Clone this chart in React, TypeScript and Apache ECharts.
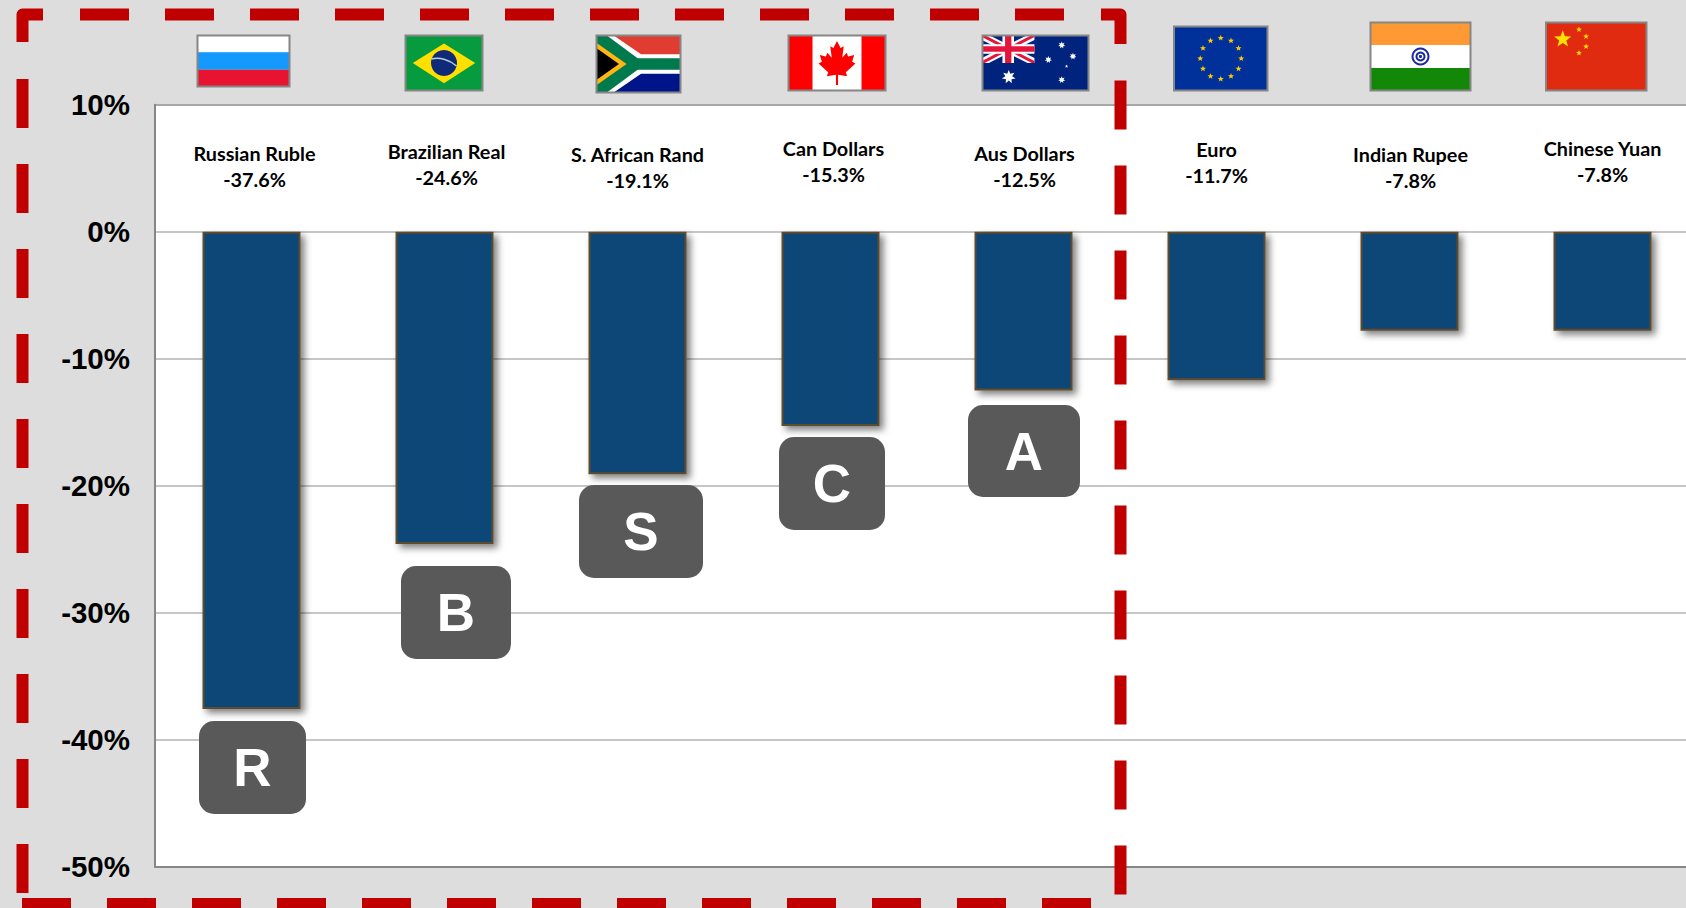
import React, { useEffect, useRef } from "react";
import * as echarts from "echarts";

// Currency moves against the US dollar, weakest first.
const currencies = [
  "Russian Ruble",
  "Brazilian Real",
  "S. African Rand",
  "Can Dollars",
  "Aus Dollars",
  "Euro",
  "Indian Rupee",
  "Chinese Yuan",
];
const changes = [-37.6, -24.6, -19.1, -15.3, -12.5, -11.7, -7.8, -7.8];
const axisTicks = [-50, -40, -30, -20, -10, 0, 10];

// Hand placement of the caption above each column: [x offset, name y, value y].
const captionOffsets = [
  [3, 153, 179],
  [2, 151, 177],
  [0, 154, 180],
  [3, 148, 174],
  [1, 153, 179],
  [0, 149, 175],
  [1, 154, 180],
  [0, 148, 174],
];

const badgeLetters = ["R", "B", "S", "C", "A"];
// Callout boxes under the five currencies: [x, y, width, height].
const badgeBoxes = [
  [199, 721, 107, 93],
  [401, 566, 110, 93],
  [579, 485, 124, 93],
  [779, 437, 106, 93],
  [968, 405, 112, 92],
];

const GRID = { left: 155, top: 104.8, width: 1544, height: 761.7 };
const LEVEL = 20;

type El = Record<string, unknown>;
type Box = { x: number; y: number; w: number; h: number };

const at = (b: Box, u: number, v: number) => [b.x + u * b.w, b.y + v * b.h];
const poly = (b: Box, pts: number[][], fill: string): El => ({
  type: "polygon",
  z: LEVEL,
  shape: { points: pts.map(([u, v]) => at(b, u, v)) },
  style: { fill },
});
const band = (b: Box, u0: number, v0: number, u1: number, v1: number, fill: string): El => ({
  type: "rect",
  z: LEVEL,
  shape: { x: b.x + u0 * b.w, y: b.y + v0 * b.h, width: (u1 - u0) * b.w, height: (v1 - v0) * b.h },
  style: { fill },
});
const star = (cx: number, cy: number, r: number, fill: string, n = 5): El => {
  const inner = n === 5 ? r * 0.42 : r * 0.5;
  const points: number[][] = [];
  for (let i = 0; i < n * 2; i++) {
    const a = -Math.PI / 2 + (i * Math.PI) / n;
    const rad = i % 2 === 0 ? r : inner;
    points.push([cx + rad * Math.cos(a), cy + rad * Math.sin(a)]);
  }
  return { type: "polygon", z: LEVEL, shape: { points }, style: { fill } };
};
const frame = (b: Box): El => ({
  type: "rect",
  z: LEVEL + 1,
  shape: { x: b.x + 0.5, y: b.y + 0.5, width: b.w - 1, height: b.h - 1 },
  style: { fill: "none", stroke: "#868686", lineWidth: 2 },
});

function russia(b: Box): El[] {
  return [
    band(b, 0, 0, 1, 1 / 3, "#FFFFFF"),
    band(b, 0, 1 / 3, 1, 2 / 3, "#1499FF"),
    band(b, 0, 2 / 3, 1, 1, "#E81330"),
  ];
}

function brazil(b: Box): El[] {
  const [cx, cy] = at(b, 0.5, 0.5);
  return [
    band(b, 0, 0, 1, 1, "#069B3E"),
    poly(b, [[0.1, 0.5], [0.5, 0.15], [0.9, 0.5], [0.5, 0.86]], "#FEDF00"),
    { type: "circle", z: LEVEL, shape: { cx, cy, r: 13 }, style: { fill: "#0E2A78" } },
    {
      type: "bezierCurve",
      z: LEVEL,
      shape: {
        x1: cx - 12.5, y1: cy - 4,
        cpx1: cx - 4, cpy1: cy - 6,
        cpx2: cx + 6, cpy2: cy - 3,
        x2: cx + 12.5, y2: cy + 3,
      },
      style: { stroke: "#B9D3CF", lineWidth: 1.5, fill: "none" },
    },
  ];
}

function southAfrica(b: Box): El[] {
  return [
    band(b, 0, 0, 1, 0.5, "#E03C31"),
    band(b, 0, 0.5, 1, 1, "#001489"),
    poly(b, [[0.2, 0], [0.53, 1 / 3], [1, 1 / 3], [1, 2 / 3], [0.53, 2 / 3], [0.2, 1], [0, 1], [0, 0]], "#FFFFFF"),
    poly(b, [[0.12, 0], [0.49, 0.4], [1, 0.4], [1, 0.6], [0.49, 0.6], [0.12, 1], [0, 1], [0, 0]], "#007A4D"),
    poly(b, [[0, 0.13], [0.36, 0.5], [0, 0.87]], "#FFB612"),
    poly(b, [[0, 0.22], [0.27, 0.5], [0, 0.78]], "#000000"),
  ];
}

const leafHalf = [
  [0, -1], [0.17, -0.68], [0.32, -0.76], [0.25, -0.24], [0.46, -0.47], [0.53, -0.3],
  [0.82, -0.36], [0.72, -0.06], [0.88, 0.02], [0.42, 0.42], [0.48, 0.6], [0.05, 0.53], [0.05, 1],
];

function canada(b: Box): El[] {
  const [cx, cy] = at(b, 0.5, 0.5);
  const half = leafHalf.concat(leafHalf.slice().reverse().map(([x, y]) => [-x, y]));
  const points = half.map(([x, y]) => [cx + x * 21, cy + y * 22]);
  return [
    band(b, 0, 0, 1, 1, "#FFFFFF"),
    band(b, 0, 0, 0.25, 1, "#FF0000"),
    band(b, 0.75, 0, 1, 1, "#FF0000"),
    { type: "polygon", z: LEVEL, shape: { points }, style: { fill: "#FF0000" } },
  ];
}

function unionJack(c: Box): El[] {
  const diag = (d: number, e: number, fill: string) => [
    poly(c, [[0, 0], [d, 0], [1, 1 - e], [1, 1], [1 - d, 1], [0, e]], fill),
    poly(c, [[1, 0], [1, e], [d, 1], [0, 1], [0, 1 - e], [1 - d, 0]], fill),
  ];
  return [
    band(c, 0, 0, 1, 1, "#00247D"),
    ...diag(0.13, 0.18, "#FFFFFF"),
    ...diag(0.05, 0.07, "#E4143C"),
    band(c, 0.39, 0, 0.61, 1, "#FFFFFF"),
    band(c, 0, 0.33, 1, 0.67, "#FFFFFF"),
    band(c, 0.44, 0, 0.56, 1, "#E4143C"),
    band(c, 0, 0.4, 1, 0.6, "#E4143C"),
  ];
}

function australia(b: Box): El[] {
  const s = (u: number, v: number, r: number, n = 7) => {
    const [cx, cy] = at(b, u, v);
    return star(cx, cy, r, "#FFFFFF", n);
  };
  return [
    band(b, 0, 0, 1, 1, "#00247D"),
    ...unionJack({ x: b.x, y: b.y, w: b.w * 0.49, h: b.h * 0.5 }),
    s(0.25, 0.75, 7),
    s(0.745, 0.18, 3.6),
    s(0.85, 0.38, 3.6),
    s(0.62, 0.44, 3.6),
    s(0.79, 0.56, 1.8, 5),
    s(0.745, 0.8, 3.6),
  ];
}

function europe(b: Box): El[] {
  const [cx, cy] = at(b, 0.5, 0.5);
  const ring: El[] = [];
  for (let i = 0; i < 12; i++) {
    const a = (i * Math.PI) / 6;
    ring.push(star(cx + 20.5 * Math.sin(a), cy - 20.5 * Math.cos(a), 3.2, "#FFCC00"));
  }
  return [band(b, 0, 0, 1, 1, "#00309A"), ...ring];
}

function india(b: Box): El[] {
  const [cx, cy] = at(b, 0.5, 0.5);
  return [
    band(b, 0, 0, 1, 1 / 3, "#FF9933"),
    band(b, 0, 1 / 3, 1, 2 / 3, "#FFFFFF"),
    band(b, 0, 2 / 3, 1, 1, "#138808"),
    { type: "ring", z: LEVEL, shape: { cx, cy, r: 9, r0: 7 }, style: { fill: "#1A2A9C" } },
    { type: "ring", z: LEVEL, shape: { cx, cy, r: 5, r0: 3 }, style: { fill: "#1A2A9C" } },
    { type: "circle", z: LEVEL, shape: { cx, cy, r: 1.6 }, style: { fill: "#1A2A9C" } },
  ];
}

function china(b: Box): El[] {
  const s = (u: number, v: number, r: number) => {
    const [cx, cy] = at(b, u, v);
    return star(cx, cy, r, "#FFE000");
  };
  return [
    band(b, 0, 0, 1, 1, "#E12B10"),
    s(0.17, 0.25, 9),
    s(0.33, 0.11, 3),
    s(0.4, 0.21, 3),
    s(0.4, 0.355, 3),
    s(0.33, 0.45, 3),
  ];
}

const flags: [Box, (b: Box) => El[]][] = [
  [{ x: 197, y: 35, w: 93, h: 52 }, russia],
  [{ x: 405, y: 35, w: 78, h: 56 }, brazil],
  [{ x: 596, y: 35, w: 85, h: 58 }, southAfrica],
  [{ x: 788, y: 35, w: 98, h: 56 }, canada],
  [{ x: 982, y: 35, w: 107, h: 56 }, australia],
  [{ x: 1173.5, y: 26, w: 94.5, h: 65 }, europe],
  [{ x: 1370, y: 22, w: 101, h: 69 }, india],
  [{ x: 1545.5, y: 22, w: 101.5, h: 69 }, china],
];

// Dashed red box that groups the five commodity-linked currencies.
const dashRed = "#C00000";
const dashStyle = { stroke: dashRed, lineWidth: 12, lineDash: [49, 36], fill: "none" };
const dashLine = (x1: number, y1: number, x2: number, y2: number): El => ({
  type: "line",
  z: LEVEL + 2,
  shape: { x1, y1, x2, y2 },
  style: dashStyle,
});
const corner = (points: number[][]): El => ({
  type: "polyline",
  z: LEVEL + 2,
  shape: { points },
  style: { stroke: dashRed, lineWidth: 12, lineJoin: "round", fill: "none" },
});
const dashedBox: El[] = [
  dashLine(80, 14.5, 1064, 14.5),
  dashLine(22.5, 79, 22.5, 893),
  dashLine(1120.5, 80.5, 1120.5, 895),
  dashLine(22, 904, 1093, 904),
  corner([[22.5, 42], [22.5, 14.5], [43, 14.5]]),
  corner([[1101, 14.5], [1120.5, 14.5], [1120.5, 44]]),
];

const badges: El[] = badgeLetters.flatMap((letter, i) => {
  const [x, y, width, height] = badgeBoxes[i];
  return [
    {
      type: "rect",
      z: LEVEL,
      shape: { x, y, width, height, r: 15 },
      style: { fill: "#595959" },
    },
    {
      type: "text",
      z: LEVEL + 1,
      x: x + width / 2,
      y: y + height / 2,
      style: {
        text: letter,
        fill: "#FFFFFF",
        font: 'bold 53px "Liberation Sans", Arial, sans-serif',
        align: "center",
        verticalAlign: "middle",
      },
    },
  ];
});

const captionFont = 'bold 19.8px Lato, "Open Sans", sans-serif';

export default function App() {
  const ref = useRef<HTMLDivElement>(null);

  useEffect(() => {
    const chart = echarts.init(ref.current!, undefined, { renderer: "svg" });
    chart.setOption({
      animation: false,
      backgroundColor: "#DDDDDD",
      grid: {
        ...GRID,
        show: true,
        backgroundColor: "#FFFFFF",
        borderWidth: 0,
        containLabel: false,
        outerBoundsMode: "none",
      },
      xAxis: {
        type: "category",
        data: currencies,
        axisTick: { show: false },
        axisLabel: { show: false },
        axisLine: { show: true, onZero: false, lineStyle: { color: "#868686", width: 2 } },
      },
      yAxis: {
        type: "value",
        min: axisTicks[0],
        max: axisTicks[axisTicks.length - 1],
        interval: 10,
        axisTick: { show: false },
        axisLine: { show: true, lineStyle: { color: "#868686", width: 2 } },
        axisLabel: {
          margin: 25,
          color: "#000000",
          fontFamily: '"Liberation Sans", Arial, sans-serif',
          fontWeight: "bold",
          fontSize: 29.5,
          padding: [3, 0, 0, 0],
          formatter: (v: number) => `${v}%`,
        },
        splitLine: {
          show: true,
          lineStyle: {
            width: 2,
            color: ["#868686", "#C6C6C6", "#C6C6C6", "#C6C6C6", "#C6C6C6", "#C6C6C6", "#A8A8A8"],
          },
        },
      },
      series: [
        {
          type: "bar",
          data: changes,
          barWidth: 98,
          itemStyle: {
            color: "#0C4678",
            borderColor: "#5E4B2E",
            borderWidth: 2,
            shadowBlur: 7,
            shadowColor: "rgba(0,0,0,0.5)",
            shadowOffsetX: 4,
            shadowOffsetY: 4,
          },
        },
        {
          // Currency name and percentage above each column.
          type: "custom",
          coordinateSystem: "cartesian2d",
          data: changes.map((v, i) => [i, v]),
          encode: { x: 0, y: 1 },
          clip: false,
          z: 5,
          renderItem: (params: { dataIndex: number }, api: { coord: (v: number[]) => number[] }) => {
            const i = params.dataIndex;
            const [x] = api.coord([i, 0]);
            const [dx, nameY, valueY] = captionOffsets[i];
            const line = (text: string, y: number) => ({
              type: "text",
              x: x + dx,
              y,
              style: {
                text,
                fill: "#000000",
                font: captionFont,
                align: "center",
                verticalAlign: "middle",
              },
            });
            return {
              type: "group",
              children: [line(currencies[i], nameY), line(`${changes[i].toFixed(1)}%`, valueY)],
            };
          },
        },
      ],
      graphic: {
        elements: [
          ...flags.flatMap(([box, draw]) => [...draw(box), frame(box)]),
          ...badges,
          ...dashedBox,
        ],
      },
    });
    return () => chart.dispose();
  }, []);

  return (
    <div
      ref={ref}
      style={{ position: "fixed", left: 0, top: 0, width: 1686, height: 908 }}
    />
  );
}
